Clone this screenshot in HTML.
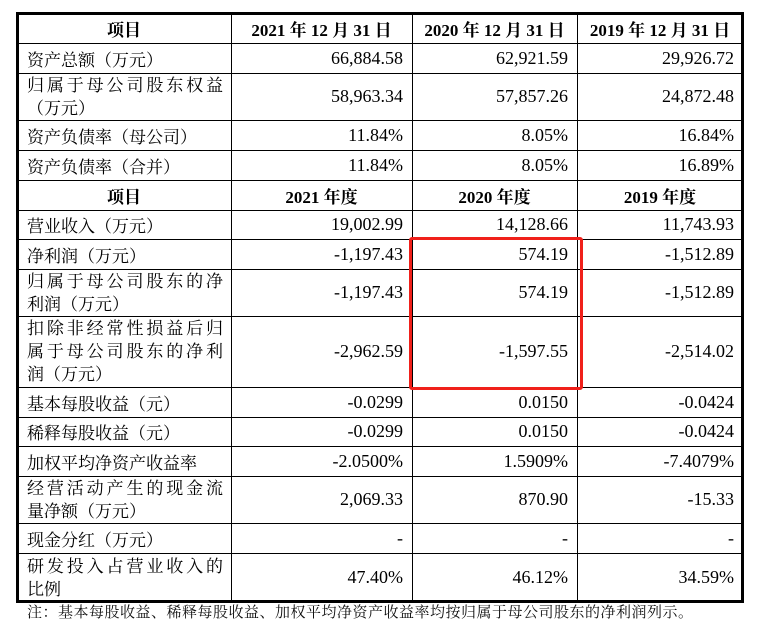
<!DOCTYPE html>
<html><head><meta charset="utf-8">
<style>
body{margin:0;width:759px;height:626px;background:#fff;position:relative;overflow:hidden;font-family:"Liberation Serif","Noto Serif CJK SC",serif;color:#000}
.c{position:absolute;box-sizing:border-box;font-size:18px;display:flex;align-items:center}
.l{padding-left:10px;font-size:17px;letter-spacing:0;font-family:"Liberation Serif","Noto Serif CJK SC",serif}
.n{justify-content:flex-end;padding-right:9px}
.h{justify-content:center;font-weight:bold;font-size:17px}
.hl{position:absolute;background:#000}
.j{display:block;width:196px;text-align:justify;text-align-last:justify;letter-spacing:0;line-height:23px}
.j2{display:block;line-height:23px}
</style></head><body>
<div id="t"></div>
<div style="position:absolute;left:409px;top:237px;width:174px;height:153px;box-sizing:border-box;border:3px solid #f0201a;border-radius:3px"></div>
<div style="position:absolute;left:27px;top:602px;font-size:15px;letter-spacing:0.5px;line-height:22px;color:#111">注：基本每股收益、稀释每股收益、加权平均净资产收益率均按归属于母公司股东的净利润列示。</div>
<script>
const colX=[17,231,412,577,743];
const rowY=[13,43,73,120,150,180,210,239,269,316,387,417,446,476,523,553,602];
const labels=[
 ["项目"],["资产总额（万元）"],["归属于母公司股东权益","（万元）"],["资产负债率（母公司）"],["资产负债率（合并）"],
 ["项目"],["营业收入（万元）"],["净利润（万元）"],["归属于母公司股东的净","利润（万元）"],
 ["扣除非经常性损益后归","属于母公司股东的净利","润（万元）"],["基本每股收益（元）"],["稀释每股收益（元）"],
 ["加权平均净资产收益率"],["经营活动产生的现金流","量净额（万元）"],["现金分红（万元）"],["研发投入占营业收入的","比例"]];
const y2021=["2021 年 12 月 31 日","66,884.58","58,963.34","11.84%","11.84%","2021 年度","19,002.99","-1,197.43","-1,197.43","-2,962.59","-0.0299","-0.0299","-2.0500%","2,069.33","-","47.40%"];
const y2020=["2020 年 12 月 31 日","62,921.59","57,857.26","8.05%","8.05%","2020 年度","14,128.66","574.19","574.19","-1,597.55","0.0150","0.0150","1.5909%","870.90","-","46.12%"];
const y2019=["2019 年 12 月 31 日","29,926.72","24,872.48","16.84%","16.89%","2019 年度","11,743.93","-1,512.89","-1,512.89","-2,514.02","-0.0424","-0.0424","-7.4079%","-15.33","-","34.59%"];
const headerRows=[0,5];
const t=document.getElementById('t');
const cols=[y2021,y2020,y2019];
for(let r=0;r<labels.length;r++){
 const top=rowY[r],h=rowY[r+1]-rowY[r];
 const isH=headerRows.includes(r);
 const d=document.createElement('div');
 
 
 d.className='c '+(isH?'h':'l');
 d.style.cssText+=`left:${colX[0]}px;top:${top}px;width:${colX[1]-colX[0]}px;height:${h}px`;
 if(isH||labels[r].length===1){d.textContent=labels[r][0];}
 else{
  const w=document.createElement('div');
  labels[r].forEach((s,i)=>{const ln=document.createElement('div');ln.className=(i<labels[r].length-1)?'j':'j2';ln.textContent=s;w.appendChild(ln);});
  d.appendChild(w);
 }
 t.appendChild(d);
 for(let c=0;c<3;c++){
  const e=document.createElement('div');
  
  
  e.className='c '+(isH?'h':'n');
  e.style.cssText+=`left:${colX[c+1]}px;top:${top}px;width:${colX[c+2]-colX[c+1]}px;height:${h}px`;
  e.textContent=cols[c][r];
  t.appendChild(e);
 }
}
for(let i=1;i<rowY.length-1;i++){
 const l=document.createElement('div');
 
 
 l.className='hl';l.style.cssText=`left:${colX[0]}px;top:${rowY[i]-0.5}px;width:${colX[4]-colX[0]}px;height:1px`;
 t.appendChild(l);
}
for(let i=1;i<colX.length-1;i++){
 const l=document.createElement('div');
 
 
 l.className='hl';l.style.cssText=`left:${colX[i]-0.5}px;top:${rowY[0]}px;width:1px;height:${rowY[rowY.length-1]-rowY[0]}px`;
 t.appendChild(l);
}
const b=document.createElement('div');


b.style.cssText=`position:absolute;left:${colX[0]-1}px;top:${rowY[0]-1}px;width:${colX[4]-colX[0]+2}px;height:${rowY[rowY.length-1]-rowY[0]+2}px;border:3px solid #000;box-sizing:border-box`;
t.appendChild(b);
</script>
</body></html>
